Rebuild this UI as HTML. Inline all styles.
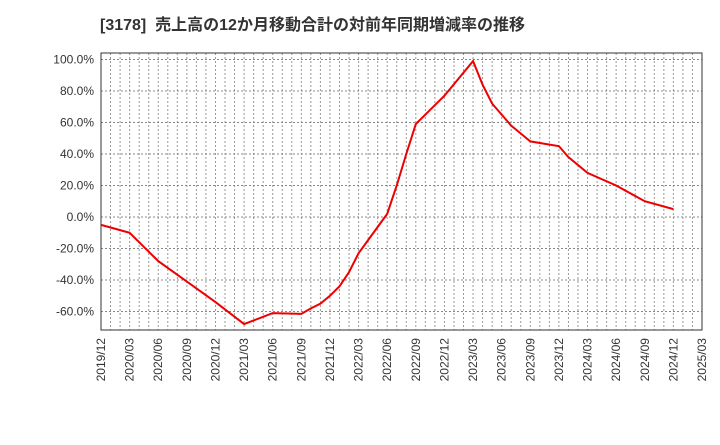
<!DOCTYPE html>
<html><head><meta charset="utf-8"><style>
body{margin:0;background:#fff;}
svg text{font-family:"Liberation Sans","Noto Sans CJK JP",sans-serif;}
</style></head><body>
<svg id="c" width="720" height="440" xmlns="http://www.w3.org/2000/svg">
<text x="100" y="30" font-size="16" font-weight="600" fill="#333">[3178]&#160;&#160;売上高の12か月移動合計の対前年同期増減率の推移</text>
<g id="grid"></g><g id="axes"></g><g id="series"></g>
</svg>
<script>
const xTickLabels=["2019/12","2020/03","2020/06","2020/09","2020/12","2021/03","2021/06","2021/09","2021/12","2022/03","2022/06","2022/09","2022/12","2023/03","2023/06","2023/09","2023/12","2024/03","2024/06","2024/09","2024/12","2025/03"];
const yTicks=[-60,-40,-20,0,20,40,60,80,100];
const pointMonths=[0,3,6,9,12,15,18,21,22,23,24,25,26,27,30,31,32,33,36,39,40,41,42,43,44,45,48,49,51,54,57,60];
const pointValues=[-5,-10,-28,-41,-54,-68,-61,-61.5,-58,-55,-50,-44,-35,-23,2,20,40,59,77,99,84,72,65,58,53,48,45,38,28,20,10,5];
const L=101,R=702,T=53,B=330,months=63;
const xs=m=>L+(R-L)*m/months;
const ys=v=>217-(v)*1.575;
const ns="http://www.w3.org/2000/svg";
function mk(t,a,p){const e=document.createElementNS(ns,t);for(const k in a)e.setAttribute(k,a[k]);p.appendChild(e);return e;}
const g=document.getElementById('grid'),ax=document.getElementById('axes'),s=document.getElementById('series');
for(let m=1;m<months;m++){const l=mk('line',{x1:xs(m),x2:xs(m),y1:T,y2:B,stroke:'#999','stroke-width':1,'stroke-dasharray':'2,2'},g);

}
yTicks.forEach(v=>{const l=mk('line',{x1:L,x2:R,y1:ys(v),y2:ys(v),stroke:'#888','stroke-width':1,'stroke-dasharray':'2,2'},g);


const t=mk('text',{x:L-7,y:ys(v)+4,'text-anchor':'end','font-size':12,fill:'#333'},ax);t.textContent=v.toFixed(1)+'%';

});
xTickLabels.forEach((lab,i)=>{const x=xs(i*3);const t=mk('text',{transform:`translate(${x+4},${B+8}) rotate(-90)`,'text-anchor':'end','font-size':12,fill:'#333'},ax);t.textContent=lab;

});
const fr=mk('rect',{x:L,y:T,width:R-L,height:B-T,fill:'none',stroke:'#333','stroke-width':1},ax);


const p=mk('polyline',{points:pointMonths.map((m,i)=>xs(m)+','+ys(pointValues[i])).join(' '),fill:'none',stroke:'#e00','stroke-width':2},s);


</script>
</body></html>
